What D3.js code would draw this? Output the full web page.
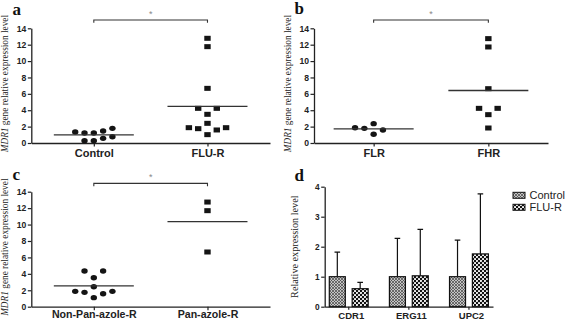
<!DOCTYPE html>
<html><head><meta charset="utf-8">
<script src="https://cdn.jsdelivr.net/npm/d3@7"></script>
<style>
body{margin:0;background:#fff;}
svg{display:block;}
</style></head>
<body><svg id="chart" width="567" height="321"></svg>
<script>
// ---------- DATA ----------
const catsA = ["Control", "FLU-R"];
const controlA = [1.22, 0.28, 1.22, 0.57, 1.34, 0.28, 1.47, 1.79, 0.77];
const fluRA = [12.78, 11.76, 6.67, 3.5, 2.4, 1.02, 4.23, 4.23, 1.75, 1.59, 1.87, 1.87];

const catsB = ["FLR", "FHR"];
const flrB = [2.36, 1.06, 1.79, 1.59, 1.87];
const fhrB = [12.74, 11.72, 6.63, 3.46, 1.83, 4.23, 4.23];

const catsC = ["Non-Pan-azole-R", "Pan-azole-R"];
const nonPanC = [3.53, 2.43, 1.10, 4.34, 4.34, 1.75, 1.58, 1.87, 1.87];
const panC = [12.74, 11.69, 6.66];

const scatterTicks = [0, 2, 4, 6, 8, 10, 12, 14];

const genes = ["CDR1", "ERG11", "UPC2"];
const seriesD = ["Control", "FLU-R"];
const controlMeanD = [1.0, 1.0, 1.0];
const controlSdD = [0.82, 1.28, 1.22];
const fluMeanD = [0.60, 1.03, 1.76];
const fluSdD = [0.21, 1.55, 2.0];
const barTicks = [0, 1, 2, 3, 4];

// ---------- DRAW ----------
const svg = d3.select("#chart");
const SANS = "'Liberation Sans', Arial, sans-serif";
const SERIF = "'Liberation Serif', 'Times New Roman', serif";
const AX = "#222";

const defs = svg.append("defs");
const pc = defs.append("pattern").attr("id", "patCtl").attr("patternUnits", "userSpaceOnUse")
  .attr("width", 3).attr("height", 3);
pc.append("rect").attr("width", 3).attr("height", 3).attr("fill", "#c4c4c4");
pc.append("path").attr("d", "M0,0L3,3M3,0L0,3").attr("stroke", "#444").attr("stroke-width", 0.7);
const pf = defs.append("pattern").attr("id", "patFlu").attr("patternUnits", "userSpaceOnUse")
  .attr("width", 4).attr("height", 4);
pf.append("rect").attr("width", 4).attr("height", 4).attr("fill", "#111");
pf.append("circle").attr("cx", 1).attr("cy", 1).attr("r", 1.05).attr("fill", "#fff");
pf.append("circle").attr("cx", 3).attr("cy", 3).attr("r", 1.05).attr("fill", "#fff");

function panelLabel(txt, x, y) {
  svg.append("text").attr("x", x).attr("y", y).text(txt)
    .attr("font-family", SERIF).attr("font-weight", "bold").attr("font-size", 17).attr("fill", "#111");
}

function styleAxis(g) {
  g.selectAll("path.domain").attr("stroke", AX).attr("stroke-width", 1.3);
  g.selectAll(".tick line").attr("stroke", AX).attr("stroke-width", 1.2);
}

function swarm(values, y, thresh) {
  const seq = [0, -1, 1, -2, 2, -3, 3];
  const placed = [];
  values.forEach(v => {
    const py = y(v);
    for (const c of seq) {
      if (!placed.some(p => p.c === c && Math.abs(p.py - py) < thresh)) {
        placed.push({v, py, c});
        break;
      }
    }
  });
  return placed;
}

function scatterPanel(o) {
  const g = svg.append("g");
  const y = d3.scaleLinear().domain([0, 14]).range([o.yBottom, o.yTop]);
  const x = d3.scalePoint().domain(o.cats).range([o.xLeft, o.xRight]).padding(o.pad);

  const ya = g.append("g").attr("transform", `translate(${o.xLeft},0)`)
    .call(d3.axisLeft(y).tickValues(scatterTicks).tickSize(3.5).tickSizeOuter(0).tickPadding(1.5));
  ya.selectAll("text").attr("font-family", SANS).attr("font-weight", "bold").attr("font-size", 8.6).attr("fill", "#222");
  styleAxis(ya);

  const xa = g.append("g").attr("transform", `translate(0,${o.yBottom})`)
    .call(d3.axisBottom(x).tickSize(3.5).tickSizeOuter(0).tickPadding(o.catPad));
  xa.selectAll("text").attr("font-family", SANS).attr("font-weight", "bold").attr("font-size", o.catSize).attr("fill", "#222");
  styleAxis(xa);

  o.groups.forEach((vals, i) => {
    const cx = x(o.cats[i]);
    const pts = swarm(vals, y, 6.8);
    const shape = o.shapes[i];
    if (shape === "circle") {
      g.selectAll(null).data(pts).join("ellipse")
        .attr("cx", d => cx + d.c * 9.3).attr("cy", d => d.py)
        .attr("rx", 3.2).attr("ry", 2.7).attr("fill", "#141414");
    } else {
      g.selectAll(null).data(pts).join("rect")
        .attr("x", d => cx + d.c * 9.3 - 3.2).attr("y", d => d.py - 2.5)
        .attr("width", 6.4).attr("height", 5).attr("fill", "#141414");
    }
    const m = d3.mean(vals);
    g.append("line").attr("x1", cx - 40).attr("x2", cx + 40)
      .attr("y1", y(m)).attr("y2", y(m)).attr("stroke", "#333").attr("stroke-width", 1.3);
  });

  // significance bracket
  const x0 = x(o.cats[0]), x1 = x(o.cats[1]), by = o.yTop - 8.3;
  g.append("path").attr("d", `M${x0},${by + 2.8}V${by}H${x1}V${by + 2.8}`)
    .attr("fill", "none").attr("stroke", "#333").attr("stroke-width", 1.1);
  g.append("text").attr("x", (x0 + x1) / 2).attr("y", by - 3.5).attr("text-anchor", "middle")
    .attr("font-family", SANS).attr("font-size", 9).attr("fill", "#888").text("*");

  // y-axis title
  const t = g.append("text")
    .attr("transform", `translate(${o.titleX},${(o.yTop + o.yBottom) / 2 - 2}) rotate(-90)`)
    .attr("text-anchor", "middle").attr("font-family", SERIF).attr("font-size", 9.3).attr("fill", "#222");
  t.append("tspan").attr("font-style", "italic").text("MDR1");
  t.append("tspan").text(" gene relative expression level");
}

scatterPanel({cats: catsA, groups: [controlA, fluRA], shapes: ["circle", "square"],
  xLeft: 31.3, xRight: 270, pad: 0.55, yTop: 28.3, yBottom: 143, titleX: 8, catPad: 2.5, catSize: 11});
scatterPanel({cats: catsB, groups: [flrB, fhrB], shapes: ["circle", "square"],
  xLeft: 314, xRight: 548, pad: 0.52, yTop: 28.3, yBottom: 143, titleX: 290.5, catPad: 2.5, catSize: 11});
scatterPanel({cats: catsC, groups: [nonPanC, panC], shapes: ["circle", "square"],
  xLeft: 31.3, xRight: 270, pad: 0.55, yTop: 191.7, yBottom: 306.7, titleX: 8, catPad: 0.5, catSize: 10.6});

panelLabel("a", 12.5, 15);
panelLabel("b", 294.5, 14);
panelLabel("c", 12.5, 180);
panelLabel("d", 294.5, 181);

// ---------- Panel d: bar chart ----------
(function () {
  const g = svg.append("g");
  const left = 324.7, right = 493, top = 186.7, bottom = 306.7;
  const y = d3.scaleLinear().domain([0, 4]).range([bottom, top]);
  const x0 = d3.scaleBand().domain(genes).range([left, right]).paddingInner(0.3).paddingOuter(0.05);
  const x1 = d3.scaleBand().domain(seriesD).range([0, x0.bandwidth()]).paddingInner(0.3).paddingOuter(0.07);

  const ya = g.append("g").attr("transform", `translate(${left},0)`)
    .call(d3.axisLeft(y).tickValues(barTicks).tickFormat(d3.format("d")).tickSize(3.5).tickSizeOuter(0).tickPadding(1.5));
  ya.selectAll("text").attr("font-family", SANS).attr("font-weight", "bold").attr("font-size", 8.3).attr("fill", "#222");
  styleAxis(ya);

  const xa = g.append("g").attr("transform", `translate(0,${bottom})`)
    .call(d3.axisBottom(x0).tickSize(3).tickSizeOuter(0).tickPadding(2.5));
  xa.selectAll("text").attr("font-family", SANS).attr("font-weight", "bold").attr("font-size", 9.5)
    .attr("fill", "#222").attr("dx", 2.5);
  styleAxis(xa);

  const rows = [];
  genes.forEach((gname, i) => {
    rows.push({gene: gname, s: seriesD[0], m: controlMeanD[i], sd: controlSdD[i], fill: "url(#patCtl)"});
    rows.push({gene: gname, s: seriesD[1], m: fluMeanD[i], sd: fluSdD[i], fill: "url(#patFlu)"});
  });

  // error bars (upper only)
  g.selectAll(null).data(rows).join("path")
    .attr("d", d => {
      const cx = x0(d.gene) + x1(d.s) + x1.bandwidth() / 2;
      return `M${cx},${y(d.m)}V${y(d.m + d.sd)}M${cx - 2.8},${y(d.m + d.sd)}H${cx + 2.8}`;
    })
    .attr("stroke", "#111").attr("stroke-width", 1.2).attr("fill", "none");

  g.selectAll(null).data(rows).join("rect")
    .attr("x", d => x0(d.gene) + x1(d.s)).attr("y", d => y(d.m))
    .attr("width", x1.bandwidth()).attr("height", d => bottom - y(d.m))
    .attr("fill", d => d.fill).attr("stroke", "#111").attr("stroke-width", 1.2);

  // y title
  g.append("text").attr("transform", `translate(298,${(top + bottom) / 2}) rotate(-90)`)
    .attr("text-anchor", "middle").attr("font-family", SERIF).attr("font-size", 10.2).attr("fill", "#222")
    .text("Relative expression level");

  // legend
  const lg = g.append("g");
  seriesD.forEach((s, i) => {
    const ly = 192.3 + i * 12;
    lg.append("rect").attr("x", 513).attr("y", ly).attr("width", 12).attr("height", 6)
      .attr("fill", i === 0 ? "url(#patCtl)" : "url(#patFlu)").attr("stroke", "#111").attr("stroke-width", 1);
    lg.append("text").attr("x", 529.5).attr("y", ly + 7).text(s)
      .attr("font-family", SANS).attr("font-size", 11).attr("fill", "#222");
  });
})();
</script>
</body></html>
